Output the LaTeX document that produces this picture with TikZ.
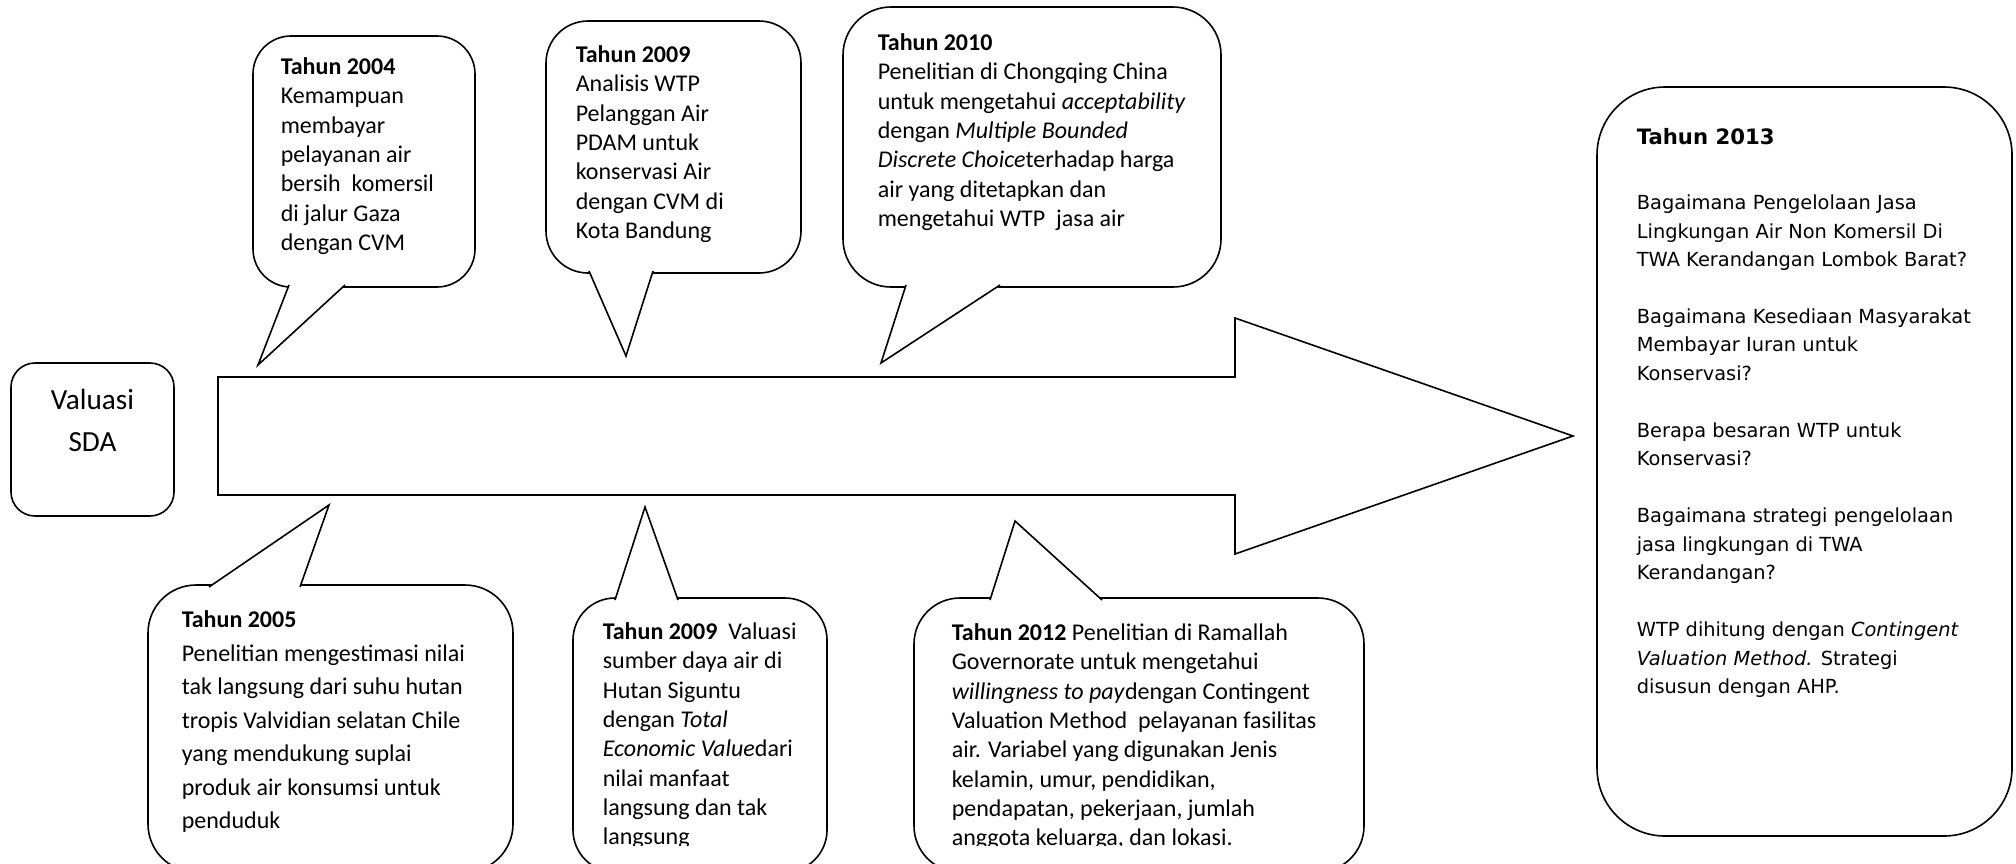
\documentclass[tikz,border=0pt]{standalone}
\usepackage{fontspec}
\setmainfont{Carlito}
\newfontfamily\qfont{DejaVu Sans}
\usetikzlibrary{positioning}

\tikzset{
  bubble/.style={draw,fill=white,rounded corners=#1},
  tail/.style={draw,fill=white,line join=miter},
  info/.style={anchor=north west,inner sep=0pt,align=left,font=\fontsize{12}{14.65}\selectfont}
}

\begin{document}
\begin{tikzpicture}[x=0.5pt,y=-0.5pt,line width=0.8pt]
    \clip (0,0) rectangle (2016,863);

    \draw[fill=white] (218,377) -- (1235,377) -- (1235,318) -- (1573,436)
        -- (1235,554) -- (1235,495) -- (218,495) -- cycle;

    \draw[bubble=12pt] (11,363) rectangle (174,516);
    \node[align=center,font=\fontsize{14.6}{21}\selectfont] (sda) at (92.5,420) {Valuasi\\SDA};

    \draw[bubble=19pt] (253,36) rectangle (475,287);
    \filldraw[tail] (289,285) -- (258,365) -- (345,285);
    \node[info] (t2004) at (280,57) {\textbf{Tahun 2004}\\Kemampuan\\membayar\\pelayanan air\\bersih~ komersil\\di jalur Gaza\\dengan CVM};

    \draw[bubble=21pt] (546,21) rectangle (801,273);
    \filldraw[tail] (589,271) -- (626,356) -- (653,271);
    \node[info] (t2009a) at (575,45) {\textbf{Tahun 2009}\\Analisis WTP\\Pelanggan Air\\PDAM untuk\\konservasi Air\\dengan CVM di\\Kota Bandung};

    \draw[bubble=24pt] (843,7) rectangle (1221,287);
    \filldraw[tail] (906,285) -- (881,363) -- (1000,285);
    \node[info] (t2010) at (877,33) {\textbf{Tahun 2010}\\Penelitian di Chongqing China\\untuk mengetahui \textit{acceptability}\\dengan \textit{Multiple Bounded}\\\textit{Discrete Choice}terhadap harga\\air yang ditetapkan dan\\mengetahui WTP~ jasa air};

    \draw[bubble=24pt] (148,585) rectangle (513,872);
    \filldraw[tail] (209,587) -- (329,505) -- (300,587);
    \draw[bubble=21pt] (573,598) rectangle (827,872);
    \filldraw[tail] (615,600) -- (645,507) -- (678,600);
    \draw[bubble=23pt] (914,598) rectangle (1364,872);
    \filldraw[tail] (990,600) -- (1015,521) -- (1102,600);

    \begin{scope}
    \clip (0,0) rectangle (2016,845);
    \node[info,font=\fontsize{12}{16.75}\selectfont] (t2005) at (181,610) {\textbf{Tahun 2005}\\Penelitian mengestimasi nilai\\tak langsung dari suhu hutan\\tropis Valvidian selatan Chile\\yang mendukung suplai\\produk air konsumsi untuk\\penduduk};
    \node[info] (t2009b) at (602,622) {\textbf{Tahun 2009}~ Valuasi\\sumber daya air di\\Hutan Siguntu\\dengan \textit{Total}\\\textit{Economic Value}dari\\nilai manfaat\\langsung dan tak\\langsung};
    \node[info] (t2012) at (951,623) {\textbf{Tahun 2012} Penelitian di Ramallah\\Governorate untuk mengetahui\\\textit{willingness to pay}dengan Contingent\\Valuation Method~ pelayanan fasilitas\\air. Variabel yang digunakan Jenis\\kelamin, umur, pendidikan,\\pendapatan, pekerjaan, jumlah\\anggota keluarga, dan lokasi.};
    \end{scope}

    \draw[bubble=34pt] (1597,87) rectangle (2012,836);
    \node[anchor=north west,inner sep=0pt,font=\qfont\bfseries\fontsize{10.6}{13}\selectfont] (t2013) at (1636,128) {Tahun 2013};
    \node[info,font=\qfont\fontsize{9.7}{14.24}\selectfont] (q2013) at (1636,194) {Bagaimana Pengelolaan Jasa\\Lingkungan Air Non Komersil Di\\TWA Kerandangan Lombok Barat?\\[14.24pt]Bagaimana Kesediaan Masyarakat\\Membayar Iuran untuk\\Konservasi?\\[14.24pt]Berapa besaran WTP untuk\\Konservasi?\\[14.24pt]Bagaimana strategi pengelolaan\\jasa lingkungan di TWA\\Kerandangan?\\[14.24pt]WTP dihitung dengan \textit{Contingent}\\\textit{Valuation Method.} Strategi\\disusun dengan AHP.};
\end{tikzpicture}
\end{document}
